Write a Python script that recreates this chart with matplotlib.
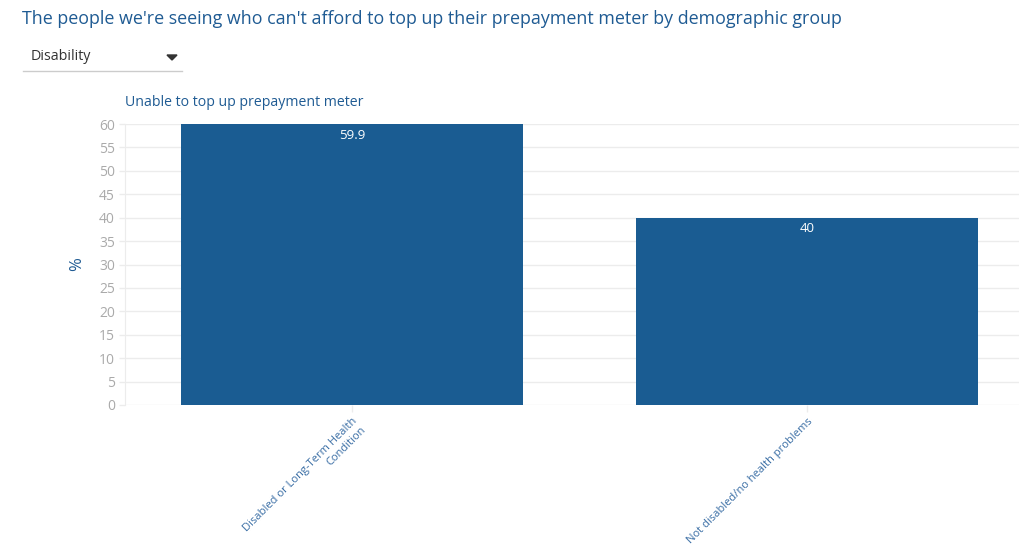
import numpy as np
import matplotlib.pyplot as plt
from matplotlib.patches import Polygon
from matplotlib.lines import Line2D

plt.rcParams["font.family"] = ["Open Sans", "DejaVu Sans"]

CATEGORIES = ["Disabled or Long-Term Health\nCondition", "Not disabled/no health problems"]
VALUES = [59.9, 40]
VALUE_LABELS = ["59.9", "40"]
Y_TICKS = list(range(0, 61, 5))

BAR_COLOR = "#1a5c92"
TITLE_COLOR = "#1f5b93"
TICK_COLOR = "#aaaaaa"
GRID_COLOR = "#ececec"

W, H = 1019, 548
fig = plt.figure(figsize=(W / 100, H / 100), dpi=100)

# plot area runs off the right edge, like the original
left, right = 124.5, 1034.5
top, bottom = 124, 405
ax = fig.add_axes([left / W, (H - bottom) / H, (right - left) / W, (bottom - top) / H])

x = np.arange(len(CATEGORIES))
ax.bar(x, VALUES, width=0.75, color=BAR_COLOR, zorder=3)
for xi, v, lab in zip(x, VALUES, VALUE_LABELS):
    ax.text(xi, v - 1.0, lab, ha="center", va="top", color="white", fontsize=9.5, zorder=4)

ax.set_xlim(-0.5, len(CATEGORIES) - 0.5)
ax.set_ylim(0, 60)
ax.set_yticks(Y_TICKS)
ax.yaxis.grid(True, color=GRID_COLOR, linewidth=1)
ax.set_axisbelow(True)
for side in ["top", "right", "bottom"]:
    ax.spines[side].set_visible(False)
ax.spines["left"].set_color(GRID_COLOR)
ax.tick_params(axis="y", labelcolor=TICK_COLOR, color=GRID_COLOR, labelsize=10,
               length=4, width=1, pad=3)
ax.tick_params(axis="x", color=GRID_COLOR, length=5, width=1, pad=3)
ax.set_xticks(x)
ax.set_xticklabels(CATEGORIES, rotation=45, ha="right", va="top", rotation_mode="anchor",
                   multialignment="right", fontsize=8, color="#3a6ea5")

fig.text(77 / W, 1 - 264 / H, "%", rotation=90, ha="center", va="center",
         fontsize=12, color=TITLE_COLOR)
fig.text(125 / W, 1 - 103 / H, "Unable to top up prepayment meter", ha="left", va="center",
         fontsize=10.2, color=TITLE_COLOR)

# title and dropdown
fig.text(22 / W, 1 - 19 / H,
         "The people we're seeing who can't afford to top up their prepayment meter by demographic group",
         ha="left", va="center", fontsize=12.9, color=TITLE_COLOR)
fig.text(31 / W, 1 - 57 / H, "Disability", ha="left", va="center", fontsize=10.3, color="#333333")
fig.add_artist(Line2D([23 / W, 182 / W], [1 - 71 / H, 1 - 71 / H], color="#cccccc", linewidth=1))
fig.add_artist(Polygon([[167 / W, 1 - 55 / H], [177 / W, 1 - 55 / H], [172 / W, 1 - 60 / H]],
                       closed=True, color="#333333"))

fig.savefig("out.png", dpi=100)
